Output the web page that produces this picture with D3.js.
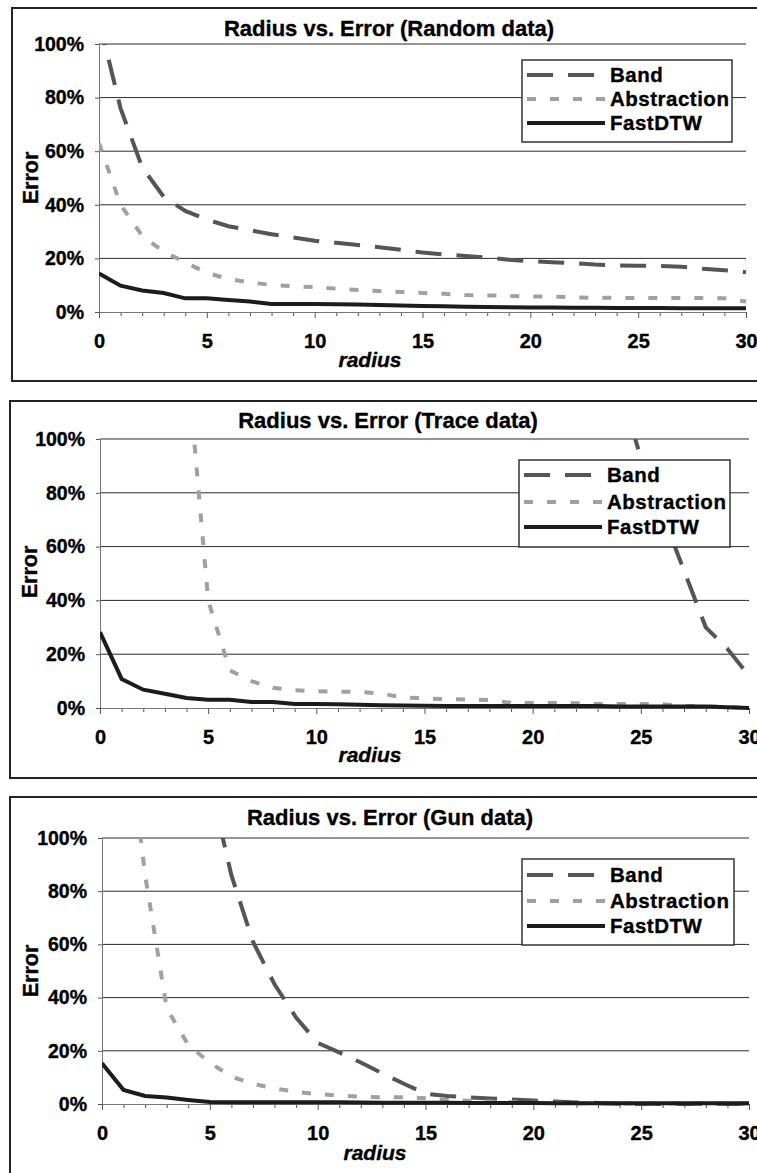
<!DOCTYPE html>
<meta charset="utf-8">
<script src="https://d3js.org/d3.v7.min.js"></script>
<style>
  body { margin: 0; background: #fff; }
  text { font-family: "Liberation Sans", Arial, sans-serif; font-weight: bold; fill: #000; stroke: #000; stroke-width: 0.35px; }
</style>
<div id="chart"></div>
<script>
// radius values on the x axis
const radius = [0,1,2,3,4,5,6,7,8,9,10,11,12,13,14,15,16,17,18,19,20,21,22,23,24,25,26,27,28,29,30];

// error in percent, one value per radius (null = off the top of the chart)
const randomBand = [109,76,54,43,37.7,34.5,32,30.5,29,27.8,26.6,25.8,25,24.2,23.2,22.2,21.5,20.9,20.3,19.5,19,18.6,18.2,17.7,17.4,17.3,17.2,16.9,16.1,15.6,14.8];
const randomAbstraction = [63,40,28.4,22.5,18.5,14.6,12.3,11,10.1,9.6,9.3,8.7,8.2,7.8,7.5,7.1,6.8,6.3,6.2,6,5.8,5.7,5.5,5.3,5.3,5.2,5.2,5.2,5.2,5.1,3.9];
const randomFastDTW = [14.4,9.8,8,7.1,5.1,5.1,4.5,3.9,3,3,3,2.9,2.8,2.6,2.4,2.2,2.1,2,1.9,1.8,1.7,1.7,1.6,1.6,1.5,1.5,1.5,1.4,1.4,1.4,1.4];

const traceBand = [null,null,null,null,null,null,null,null,null,null,null,null,null,null,null,null,null,null,null,null,null,null,null,null,120,93,72,51,30,22,12];
const traceAbstraction = [null,null,null,null,132,40,14,10,7.5,6.6,6.2,6.1,6,5.4,3.9,3.6,3.3,3.1,3,1.9,1.9,1.9,1.8,1.5,1.5,1.5,1.4,0.8,0.6,0.3,0.1];
const traceFastDTW = [28.2,10.8,6.8,5.3,3.7,3.1,3.1,2.2,2.2,1.5,1.5,1.4,1.2,1,0.9,0.8,0.7,0.7,0.7,0.7,0.7,0.7,0.7,0.7,0.6,0.6,0.6,0.6,0.6,0.3,0];

const gunBand = [null,null,null,null,null,121,86,61,45,32.5,23,19.4,15.6,11.5,7.6,3.9,3,2.5,2.1,1.7,1.3,0.9,0.6,0.4,0.1,0,0,0,0,0,0];
const gunAbstraction = [null,153,86,36,22.2,15.5,10.3,7.6,5.8,4.6,3.7,3.2,2.7,2.5,2.5,2.2,1.5,1.2,0.9,0.7,0.5,0.4,0.3,0.3,0.2,0.2,0.2,0.2,0.2,0.2,0.2];
const gunFastDTW = [15.3,5.3,3,2.4,1.5,0.75,0.7,0.7,0.7,0.7,0.7,0.65,0.6,0.5,0.5,0.5,0.45,0.4,0.4,0.4,0.35,0.3,0.3,0.3,0.3,0.3,0.25,0.25,0.25,0.25,0.25];

const seriesNames = ["Band", "Abstraction", "FastDTW"];
const yTicks = [0, 20, 40, 60, 80, 100];
const xTicks = [0, 5, 10, 15, 20, 25, 30];
const titles = ["Radius vs. Error (Random data)", "Radius vs. Error (Trace data)", "Radius vs. Error (Gun data)"];

// line looks per series
const styles = {
  Band:        {color: "#555555", width: 4, dash: "26,15"},
  Abstraction: {color: "#a0a0a0", width: 4, dash: "9,14"},
  FastDTW:     {color: "#1c1c1c", width: 4, dash: null}
};

// layout of each of the three chart boxes
const panels = [
  {title: titles[0], series: [randomBand, randomAbstraction, randomFastDTW],
   frame: {x: 12, y: 8, h: 373},
   plot: {left: 99, right: 746, top: 44, bottom: 312},
   titleAt: [389, 36], errorAt: [30, 178], radiusAt: [370, 367],
   legend: {x: 522, y: 60, w: 210, h: 82, rows: [75, 99, 123]}},
  {title: titles[1], series: [traceBand, traceAbstraction, traceFastDTW],
   frame: {x: 10, y: 401, h: 377},
   plot: {left: 100, right: 749, top: 439, bottom: 708},
   titleAt: [388, 428], errorAt: [29, 572], radiusAt: [370, 762],
   legend: {x: 519, y: 460, w: 211, h: 87, rows: [475, 502, 527]}},
  {title: titles[2], series: [gunBand, gunAbstraction, gunFastDTW],
   frame: {x: 10, y: 797, h: 420},
   plot: {left: 102, right: 749, top: 838, bottom: 1104},
   titleAt: [390, 825], errorAt: [30, 971], radiusAt: [375, 1160],
   legend: {x: 522, y: 859, w: 212, h: 86, rows: [875, 901, 926]}}
];

var svg = d3.select("#chart")
  .append("svg")
    .attr("width", 757)
    .attr("height", 1173);

panels.forEach(function (p, i) {
  var g = svg.append("g");

  // outer frame (runs off the right edge like the picture)
  g.append("rect")
    .attr("x", p.frame.x).attr("y", p.frame.y)
    .attr("width", 800).attr("height", p.frame.h)
    .attr("fill", "#fff").attr("stroke", "#222").attr("stroke-width", 2);

  var x = d3.scaleLinear().domain([0, 30]).range([p.plot.left, p.plot.right]);
  var y = d3.scaleLinear().domain([0, 100]).range([p.plot.bottom, p.plot.top]);

  // gridlines
  g.append("g").selectAll("line")
    .data(yTicks.filter(function (d) { return d > 0; }))
    .join("line")
      .attr("x1", x(0)).attr("x2", x(30))
      .attr("y1", function (d) { return y(d); })
      .attr("y2", function (d) { return y(d); })
      .attr("stroke", "#2a2a2a").attr("stroke-width", 1);

  // y axis
  var ya = g.append("g")
    .attr("transform", "translate(" + x(0) + ",0)")
    .call(d3.axisLeft(y).tickValues(yTicks).tickFormat(function (d) { return d + "%"; })
      .tickSize(4).tickSizeOuter(0).tickPadding(11));
  ya.selectAll("text").style("font-size", "19.5px").attr("fill", "#000");

  // x axis, minor ticks then major ticks
  g.append("g")
    .attr("transform", "translate(0," + y(0) + ")")
    .call(d3.axisBottom(x).tickValues(radius.filter(function (d) { return d % 5 != 0; }))
      .tickFormat("").tickSize(4).tickSizeOuter(0));
  var xa = g.append("g")
    .attr("transform", "translate(0," + y(0) + ")")
    .call(d3.axisBottom(x).tickValues(xTicks).tickSize(6).tickSizeOuter(0).tickPadding(16));
  xa.selectAll("text").style("font-size", "20px").attr("fill", "#000");

  g.selectAll(".domain").attr("stroke", "#777");
  g.selectAll(".tick line").attr("stroke", "#555");

  // title and axis titles
  g.append("text")
    .attr("x", p.titleAt[0]).attr("y", p.titleAt[1])
    .attr("text-anchor", "middle").style("font-size", "22px")
    .text(p.title);

  g.append("text")
    .attr("transform", "translate(" + (p.errorAt[0] + 7.5) + "," + p.errorAt[1] + ") rotate(-90)")
    .attr("text-anchor", "middle").style("font-size", "21.5px")
    .text("Error");

  g.append("text")
    .attr("x", p.radiusAt[0]).attr("y", p.radiusAt[1])
    .attr("text-anchor", "middle").style("font-size", "21px").style("font-style", "italic")
    .text("radius");

  // clip lines to the plot area
  var clipId = "clip" + i;
  svg.append("clipPath").attr("id", clipId)
    .append("rect")
      .attr("x", p.plot.left).attr("y", p.plot.top)
      .attr("width", p.plot.right - p.plot.left + 2)
      .attr("height", p.plot.bottom - p.plot.top + 3);

  var line = d3.line()
    .defined(function (d) { return d[1] != null; })
    .x(function (d) { return x(d[0]); })
    .y(function (d) { return y(d[1]); });

  p.series.forEach(function (values, k) {
    var s = styles[seriesNames[k]];
    g.append("path")
      .datum(radius.map(function (r, j) { return [r, values[j]]; }))
      .attr("clip-path", "url(#" + clipId + ")")
      .attr("d", line)
      .attr("fill", "none")
      .attr("stroke", s.color)
      .attr("stroke-width", s.width)
      .attr("stroke-dasharray", s.dash);
  });

  // legend
  var L = p.legend;
  g.append("rect")
    .attr("x", L.x).attr("y", L.y).attr("width", L.w).attr("height", L.h)
    .attr("fill", "#fff").attr("stroke", "#333").attr("stroke-width", 1.5);

  seriesNames.forEach(function (name, k) {
    var s = styles[name];
    g.append("line")
      .attr("x1", L.x + 5).attr("x2", L.x + 83)
      .attr("y1", L.rows[k]).attr("y2", L.rows[k])
      .attr("stroke", s.color).attr("stroke-width", s.width)
      .attr("stroke-dasharray", s.dash);
    g.append("text")
      .attr("x", L.x + 88).attr("y", L.rows[k] + 7)
      .style("font-size", "20.5px")
      .style("letter-spacing", "0.5px")
      .text(name);
  });
});
</script>
</html>
